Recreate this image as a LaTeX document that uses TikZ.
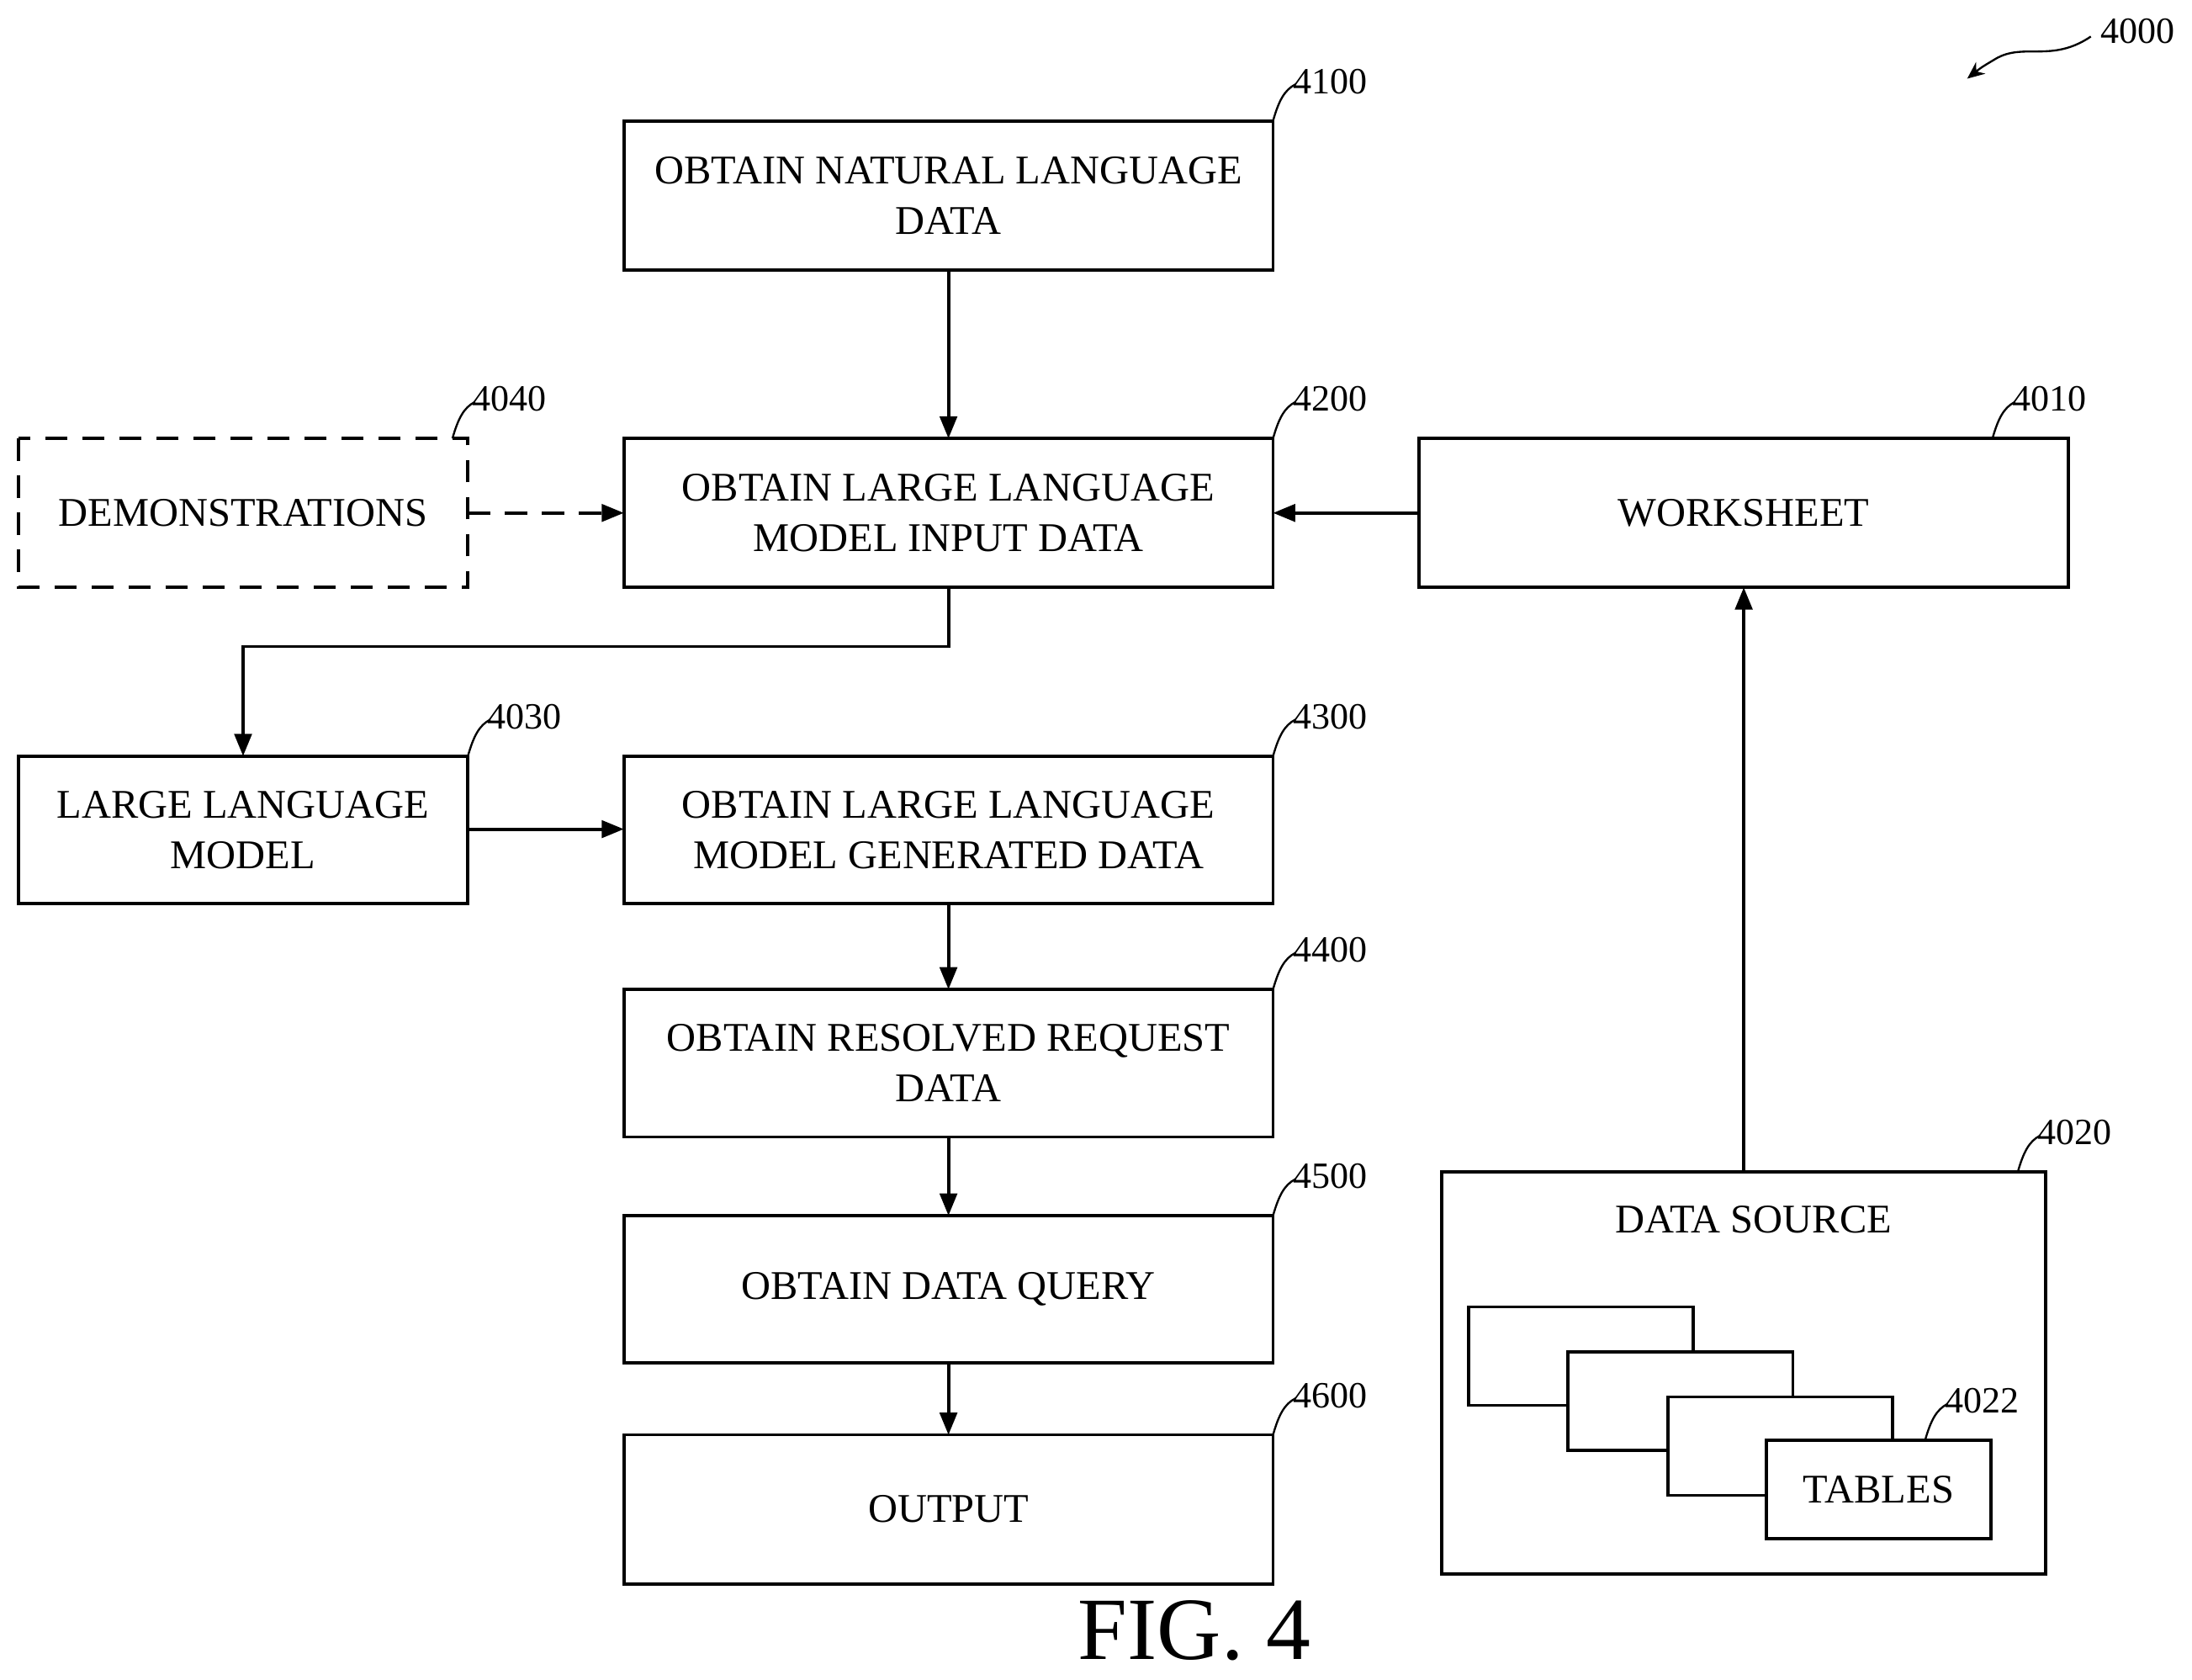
\documentclass[tikz,border=0pt]{standalone}
\usepackage{fontspec}
\setmainfont{Liberation Serif}
\usetikzlibrary{arrows.meta}
\begin{document}
\begin{tikzpicture}[x=0.02cm,y=-0.02cm,
  box/.style={draw,line width=1.3pt,inner sep=0pt},
  txt/.style={font=\fontsize{16.5}{20.5}\selectfont,align=center},
  lab/.style={font=\fontsize{15}{17}\selectfont,anchor=west,inner sep=1pt},
  arr/.style={line width=1.3pt,-{Triangle[length=9pt,width=7pt]}},
  lead/.style={line width=0.8pt}]
\useasboundingbox (0,0) rectangle (1560,1195);
% boxes
\draw[box] (444,86) rectangle (906,192) node[txt,midway] (n4100) {OBTAIN NATURAL LANGUAGE\\DATA};
\draw[box] (444,312) rectangle (906,418) node[txt,midway] (n4200) {OBTAIN LARGE LANGUAGE\\MODEL INPUT DATA};
\draw[box] (1010,312) rectangle (1472,418) node[txt,midway] (n4010) {WORKSHEET};
\draw[box,dash pattern=on 9pt off 6pt] (13,312) rectangle (333,418) node[txt,midway] (n4040) {DEMONSTRATIONS};
\draw[box] (13,538) rectangle (333,643) node[txt,midway] (n4030) {LARGE LANGUAGE\\MODEL};
\draw[box] (444,538) rectangle (906,643) node[txt,midway] (n4300) {OBTAIN LARGE LANGUAGE\\MODEL GENERATED DATA};
\draw[box] (444,704) rectangle (906,809) node[txt,midway] (n4400) {OBTAIN RESOLVED REQUEST\\DATA};
\draw[box] (444,865) rectangle (906,970) node[txt,midway] (n4500) {OBTAIN DATA QUERY};
\draw[box] (444,1021) rectangle (906,1127) node[txt,midway] (n4600) {OUTPUT};
\draw[box] (1026,834) rectangle (1456,1120);
\node[txt] (n4020) at (1248,868) {DATA SOURCE};
\draw[box] (1045,930) rectangle (1205,1000);
\draw[box,fill=white] (1116,962) rectangle (1276,1032);
\draw[box,fill=white] (1187,994) rectangle (1347,1064);
\draw[box,fill=white] (1257,1025) rectangle (1417,1095) node[txt,midway] (n4022) {TABLES};
% coordinates
\coordinate (a1) at (675,192); \coordinate (a2) at (675,312);
\coordinate (b1) at (333,365); \coordinate (b2) at (444,365);
\coordinate (c1) at (1010,365); \coordinate (c2) at (906,365);
\coordinate (d1) at (675,418); \coordinate (d2) at (173,538);
\coordinate (e1) at (333,590); \coordinate (e2) at (444,590);
\coordinate (f1) at (675,643); \coordinate (f2) at (675,704);
\coordinate (g1) at (675,809); \coordinate (g2) at (675,865);
\coordinate (h1) at (675,970); \coordinate (h2) at (675,1021);
\coordinate (i1) at (1241,834); \coordinate (i2) at (1241,418);
\draw[arr] (a1) -- (a2);
\draw[arr,dash pattern=on 9pt off 6pt] (b1) -- (b2);
\draw[arr] (c1) -- (c2);
\draw[arr] (d1) -- (675,460) -| (d2);
\draw[arr] (e1) -- (e2);
\draw[arr] (f1) -- (f2);
\draw[arr] (g1) -- (g2);
\draw[arr] (h1) -- (h2);
\draw[arr] (i1) -- (i2);
% leaders and labels
\newcommand{\ld}[3]{\draw[lead] (#1,#2) .. controls (#1+4,#2-14) and (#1+8,#2-22) .. (#1+16,#2-26); \node[lab] at (#1+12,#2-28) {#3};}
\ld{906}{86}{4100}
\ld{906}{312}{4200}
\ld{1418}{312}{4010}
\ld{322}{312}{4040}
\ld{333}{538}{4030}
\ld{906}{538}{4300}
\ld{906}{704}{4400}
\ld{906}{865}{4500}
\ld{906}{1021}{4600}
\ld{1436}{834}{4020}
\ld{1370}{1025}{4022}
\node[lab] at (1493,22) {4000};
\draw[lead,-{Stealth[length=7pt,width=6pt]}] (1488,26) .. controls (1460,45) and (1440,30) .. (1420,42) .. controls (1410,48) .. (1400,56);
\node[font=\fontsize{36}{40}\selectfont] at (850,1160) {FIG. 4};
\end{tikzpicture}
\end{document}
